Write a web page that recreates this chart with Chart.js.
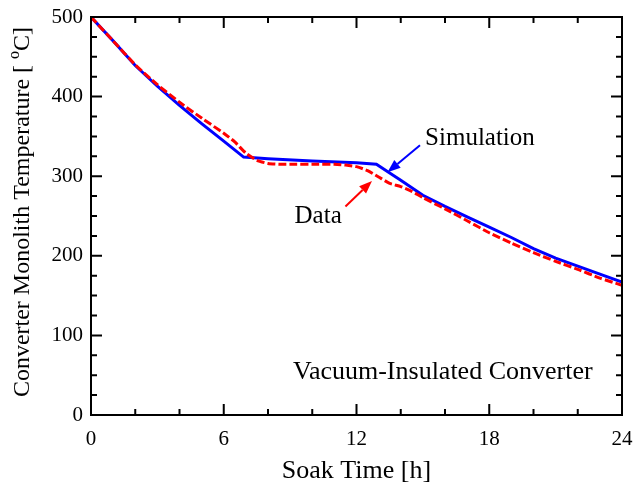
<!DOCTYPE html>
<html lang="en">
<head>
<meta charset="UTF-8">
<title>Converter Monolith Temperature</title>
<script src="https://cdn.jsdelivr.net/npm/chart.js@4.4.0/dist/chart.umd.min.js"></script>
<style>
  html, body { margin: 0; padding: 0; background: #fff; }
  #wrap { width: 634px; height: 489px; }
</style>
</head>
<body>
<div id="wrap"><canvas id="chart" width="634" height="489"></canvas></div>
<script>
// soak time [h] and temperature [C]
const simTime = [0, 1, 2, 3, 4, 5, 6, 6.9, 8, 10, 12, 12.9, 13.5, 14, 15, 16, 17, 18, 19, 20, 21, 22, 23, 24];
const simTemp = [500, 470, 439, 413, 389, 366, 344, 324, 322, 319, 317, 315, 304, 295, 276, 262, 249, 236, 223, 209, 197, 187, 177, 167];

const dataTime = [0, 1, 2, 3, 4, 5, 6, 6.5, 7, 7.5, 8, 8.5, 9, 10, 11, 11.5, 12, 12.5, 13, 13.5, 14, 14.5, 15, 16, 17, 18, 19, 20, 21, 22, 23, 24];
const dataTemp = [500, 470, 440, 415, 393, 373, 354, 343, 329, 320, 316, 315, 315, 315, 315, 314, 312, 307, 299, 291, 287, 281, 273, 259, 244, 229, 216, 204, 193, 183, 172, 163];

const xTicks = [0, 6, 12, 18, 24];
const yTicks = [0, 100, 200, 300, 400, 500];
const xMinorStep = 2;
const yMinorStep = 25;

const xTitle = 'Soak Time [h]';
const yTitleParts = ['Converter Monolith Temperature [ ', 'o', 'C]'];

// annotation positions in data units
const notes = [
  { text: 'Simulation', x: 15.1, y: 348, size: 25, color: 'rgb(0,0,255)', from: [14.87, 339], to: [13.4, 305] },
  { text: 'Data', x: 9.2, y: 250, size: 25, color: 'rgb(255,0,0)', from: [11.5, 262], to: [12.7, 294] },
  { text: 'Vacuum-Insulated Converter', x: 9.13, y: 54, size: 26 }
];

const SERIF = '"Liberation Serif", "Times New Roman", serif';

const toPts = (xs, ys) => xs.map((x, i) => ({ x: x, y: ys[i] }));

function arrow(ctx, x1, y1, x2, y2, color) {
  const ang = Math.atan2(y2 - y1, x2 - x1);
  const hl = 13, hw = 5;
  const bx = x2 - hl * Math.cos(ang), by = y2 - hl * Math.sin(ang);
  ctx.strokeStyle = color;
  ctx.fillStyle = color;
  ctx.lineWidth = 2;
  ctx.beginPath();
  ctx.moveTo(x1, y1);
  ctx.lineTo(bx, by);
  ctx.stroke();
  ctx.beginPath();
  ctx.moveTo(x2, y2);
  ctx.lineTo(bx + hw * Math.sin(ang), by - hw * Math.cos(ang));
  ctx.lineTo(bx - hw * Math.sin(ang), by + hw * Math.cos(ang));
  ctx.closePath();
  ctx.fill();
}

// frame, inward ticks, y title, notes
const decor = {
  id: 'decor',
  afterDraw(chart) {
    const { ctx, chartArea: a, scales: { x, y } } = chart;
    ctx.save();
    ctx.strokeStyle = '#000';
    ctx.lineWidth = 2;
    ctx.strokeRect(a.left, a.top, a.right - a.left, a.bottom - a.top);

    ctx.beginPath();
    for (let v = x.min; v <= x.max; v += xMinorStep) {
      const px = x.getPixelForValue(v);
      const len = xTicks.includes(v) ? 11 : 6;
      ctx.moveTo(px, a.bottom); ctx.lineTo(px, a.bottom - len);
      ctx.moveTo(px, a.top); ctx.lineTo(px, a.top + len);
    }
    for (let v = y.min; v <= y.max; v += yMinorStep) {
      const py = y.getPixelForValue(v);
      const len = yTicks.includes(v) ? 11 : 6;
      ctx.moveTo(a.left, py); ctx.lineTo(a.left + len, py);
      ctx.moveTo(a.right, py); ctx.lineTo(a.right - len, py);
    }
    ctx.stroke();

    // y title with superscript o
    const big = '24px ' + SERIF;
    const small = '16px ' + SERIF;
    ctx.fillStyle = '#000';
    ctx.font = big;
    const w0 = ctx.measureText(yTitleParts[0]).width;
    const w2 = ctx.measureText(yTitleParts[2]).width;
    ctx.font = small;
    const w1 = ctx.measureText(yTitleParts[1]).width;
    const total = w0 + w1 + w2;
    ctx.translate(23, (a.top + a.bottom) / 2 - 4);
    ctx.rotate(-Math.PI / 2);
    ctx.textBaseline = 'middle';
    ctx.textAlign = 'left';
    let cx = -total / 2;
    ctx.font = big;
    ctx.fillText(yTitleParts[0], cx, 0);
    cx += w0;
    ctx.font = small;
    ctx.fillText(yTitleParts[1], cx, -8);
    cx += w1;
    ctx.font = big;
    ctx.fillText(yTitleParts[2], cx, 0);
    ctx.setTransform(1, 0, 0, 1, 0, 0);

    // notes and arrows
    ctx.textBaseline = 'middle';
    ctx.textAlign = 'left';
    notes.forEach(n => {
      ctx.font = n.size + 'px ' + SERIF;
      ctx.fillStyle = '#000';
      ctx.fillText(n.text, x.getPixelForValue(n.x), y.getPixelForValue(n.y));
      if (n.from) {
        arrow(ctx, x.getPixelForValue(n.from[0]), y.getPixelForValue(n.from[1]),
          x.getPixelForValue(n.to[0]), y.getPixelForValue(n.to[1]), n.color);
      }
    });
    ctx.restore();
  }
};

new Chart(document.getElementById('chart'), {
  type: 'line',
  data: {
    datasets: [
      {
        label: 'Data',
        data: toPts(dataTime, dataTemp),
        borderColor: 'rgb(255,0,0)',
        borderWidth: 3,
        borderDash: [8, 3],
        pointRadius: 0,
        tension: 0.2,
        fill: false
      },
      {
        label: 'Simulation',
        data: toPts(simTime, simTemp),
        borderColor: 'rgb(0,0,255)',
        borderWidth: 3,
        pointRadius: 0,
        tension: 0,
        fill: false
      }
    ]
  },
  options: {
    responsive: false,
    animation: false,
    layout: { padding: { left: 0, right: 12, top: 17, bottom: 0 } },
    plugins: { legend: { display: false }, tooltip: { enabled: false } },
    scales: {
      x: {
        type: 'linear',
        min: 0,
        max: 24,
        afterBuildTicks: s => { s.ticks = xTicks.map(v => ({ value: v })); },
        afterFit: s => { s.height = 74; s.paddingLeft = 0; s.paddingRight = 0; },
        grid: { display: false, drawTicks: false },
        border: { display: false },
        ticks: { color: '#000', padding: 12, font: { family: SERIF, size: 21 } },
        title: {
          display: true,
          text: xTitle,
          color: '#000',
          font: { family: SERIF, size: 26 },
          padding: { top: 0, bottom: 2 }
        }
      },
      y: {
        type: 'linear',
        min: 0,
        max: 500,
        afterBuildTicks: s => { s.ticks = yTicks.map(v => ({ value: v })); },
        afterFit: s => { s.width = 91; s.paddingTop = 0; s.paddingBottom = 0; },
        grid: { display: false, drawTicks: false },
        border: { display: false },
        ticks: { color: '#000', padding: 8, font: { family: SERIF, size: 21 } }
      }
    }
  },
  plugins: [decor]
});
</script>
</body>
</html>
